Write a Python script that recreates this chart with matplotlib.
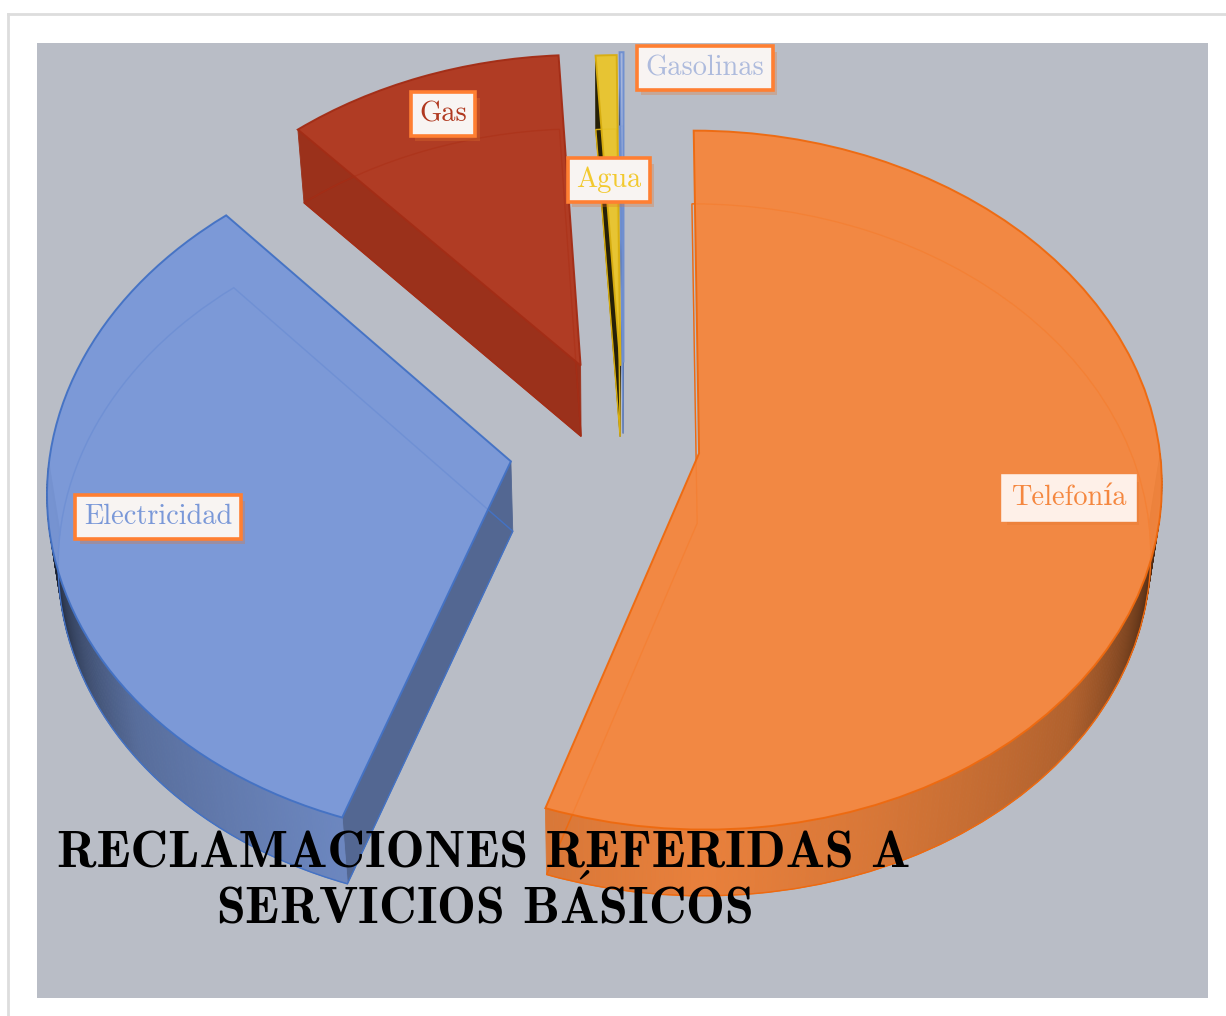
import numpy as np
import matplotlib
matplotlib.use('Agg')
import matplotlib.pyplot as plt
import matplotlib.patheffects as pe
from matplotlib.patches import Rectangle
from matplotlib.path import Path
from matplotlib.transforms import Transform

# Data
categories = ['Telefonía', 'Electricidad', 'Gas', 'Agua', 'Gasolinas']
values = [55.2, 33.2, 10.65, 0.8, 0.15]
explode = [0.165, 0.25, 0.25, 0.23, 0.24]
title_lines = ['RECLAMACIONES REFERIDAS A', r'SERVICIOS B$\mathbf{\acute{A}}$SICOS']

# Styles
faces = ['#F5873F', '#7A98D8', '#B0381F', '#E9C52E', '#A5B5DD']
edges = ['#EE6A10', '#4472C4', '#A32D16', '#D8AE10', '#6F8FD0']
label_colors = ['#F5873F', '#7A98D8', '#B0381F', '#F2C92F', '#AEBBDD']
label_pos = [(1069, 498), (158, 517), (443, 114), (609, 180), (705, 68)]

# Camera settings of the fake 3D view, all in pixels
CX, CY, SX, SY, TILT = 624, 444, 460, 346, 0.0766
DEPTH_SCALE, DEPTH_SHIFT = 0.98, 74.5

plt.rcParams['mathtext.fontset'] = 'cm'


class Tilt(Transform):
    input_dims = output_dims = 2

    def __init__(self, lower=False):
        super().__init__()
        self.lower = lower

    def transform_non_affine(self, xy):
        xy = np.asarray(xy, dtype=float)
        w = 1 + TILT * xy[:, 1]
        px = CX + SX * xy[:, 0] / w
        py = CY - SY * xy[:, 1] / w
        if self.lower:
            px = 605 + (px - 605) * DEPTH_SCALE
            py = py * 0.99 + DEPTH_SHIFT
        return np.column_stack([px, py])

    def transform_path_non_affine(self, path):
        return Path(self.transform_non_affine(path.vertices), path.codes)


def angle_from_down(normal):
    return abs((normal - 180 + 180) % 360 - 180)


def side_color(color, normal):
    k = np.interp(angle_from_down(normal), [0, 50, 70, 80, 90], [0.92, 0.88, 0.72, 0.38, 0.05])
    return tuple(np.array(matplotlib.colors.to_rgb(color)) * k)


def rim_color(color, normal):
    # the outer wall falls off faster, almost black when edge-on
    k = np.interp(angle_from_down(normal), [0, 20, 50, 65, 80, 90], [0.95, 0.88, 0.72, 0.5, 0.25, 0.05])
    return tuple(np.array(matplotlib.colors.to_rgb(color)) * k)


def quad(ax, top, low, p0, p1, color):
    a = top.transform_non_affine(np.array([p0, p1]))
    b = low.transform_non_affine(np.array([p1, p0]))
    ax.fill(np.r_[a[:, 0], b[:, 0]], np.r_[a[:, 1], b[:, 1]], color=color, lw=0.6, zorder=3)


def draw_pie(ax, lw, alpha):
    wedges, _ = ax.pie(values, explode=explode, startangle=90, counterclock=False,
                       colors=faces, wedgeprops=dict(linewidth=lw, alpha=alpha))
    return wedges


fig, ax = plt.subplots(figsize=(12.26, 10.16), dpi=100)
ax.set_position([0, 0, 1, 1])

top_tf = Tilt()
low_tf = Tilt(lower=True)

low_wedges = draw_pie(ax, 1.0, 1.0)
low_lines = draw_pie(ax, 1.0, 0.15)
top_wedges = draw_pie(ax, 1.4, 0.97)

ax.set_aspect('auto')
ax.set_xlim(0, 1226)
ax.set_ylim(1016, 0)

for i, (lw, ll, tw) in enumerate(zip(low_wedges, low_lines, top_wedges)):
    lw.set_transform(Tilt(lower=True) + ax.transData)
    lw.set_facecolor('none')
    lw.set_edgecolor(edges[i])
    lw.set_zorder(3.5)
    # faint lower outline seen through the top face
    ll.set_transform(Tilt(lower=True) + ax.transData)
    ll.set_facecolor('none')
    ll.set_edgecolor(edges[i])
    ll.set_alpha(0.15)
    ll.set_zorder(5)
    tw.set_transform(Tilt() + ax.transData)
    tw.set_edgecolor(edges[i])
    tw.set_zorder(4)

    # clockwise angles from the top of the start and end of the slice
    start = (90 - tw.theta2) % 360
    sweep = (tw.theta2 - tw.theta1) % 360
    cx, cy = tw.center
    rim = lambda a: (cx + tw.r * np.sin(np.radians(a)), cy + tw.r * np.cos(np.radians(a)))

    # side wall on the starting edge of the slice
    normal = start - 90
    if angle_from_down(normal) < 90:
        quad(ax, top_tf, low_tf, (cx, cy), rim(start), side_color(faces[i], normal))

    # rim wall, many small strips so it shades smoothly
    steps = np.linspace(start, start + sweep, max(int(sweep) * 2, 2))
    for a0, a1 in zip(steps[:-1], steps[1:]):
        mid = (a0 + a1) / 2
        if angle_from_down(mid) < 90:
            quad(ax, top_tf, low_tf, rim(a0), rim(a1), rim_color(faces[i], mid))

# Page frame and chart background
ax.add_patch(Rectangle((37, 43), 1171, 955, fc='#B9BDC6', ec='none', zorder=0))
ax.plot([8, 8], [1016, 14], color='#DDDDDD', lw=2, zorder=0)
ax.plot([8, 1226], [14, 14], color='#DDDDDD', lw=2, zorder=0)

# Labels
for i, name in enumerate(categories):
    is_tel = name == 'Telefonía'
    t = ax.text(label_pos[i][0], label_pos[i][1], name, color=label_colors[i],
                family=['cmr10', 'DejaVu Serif'], fontsize=20.4, ha='center', va='center',
                zorder=6, bbox=dict(boxstyle='square,pad=0.3', fc='#FEF0E8' if is_tel else '#F8F4F2',
                                    ec='#FEF0E8' if is_tel else '#FF7F32', lw=2.6))
    t.get_bbox_patch().set_path_effects([
        pe.SimplePatchShadow(offset=(3, -4), shadow_rgbFace='#E2762F', alpha=0.3), pe.Normal()])

# Title
for line, y in zip(title_lines, [867, 923]):
    ax.text(484, y, line, family=['cmb10', 'DejaVu Serif'], fontsize=37.5, color='black',
            ha='center', va='baseline', zorder=7)

ax.set_axis_off()
fig.savefig('out.png', dpi=100, facecolor='white')
